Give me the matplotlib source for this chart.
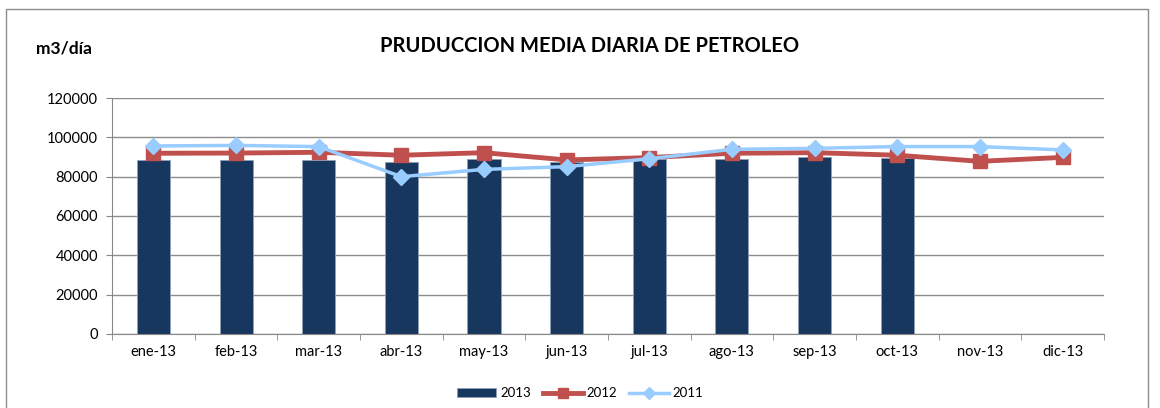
import matplotlib
matplotlib.use("Agg")
import matplotlib.pyplot as plt
from matplotlib.patches import Rectangle
import numpy as np

months = ["ene-13", "feb-13", "mar-13", "abr-13", "may-13", "jun-13",
          "jul-13", "ago-13", "sep-13", "oct-13", "nov-13", "dic-13"]
prod_2013 = [88300, 88300, 88300, 87500, 89000, 87600,
             88800, 89100, 89800, 89700]
prod_2012 = [91900, 92000, 92400, 90900, 92200, 88500,
             89700, 91900, 92200, 90900, 87800, 89800]
prod_2011 = [95600, 95900, 95300, 80000, 83700, 85100,
             89100, 93900, 94400, 95300, 95300, 93600]
yticks = [0, 20000, 40000, 60000, 80000, 100000, 120000]

plt.rcParams['font.family'] = ['Lato', 'DejaVu Sans']

fig = plt.figure(figsize=(11.6, 4.08), dpi=100)
ax = fig.add_axes([0.0966, 0.1814, 0.855, 0.5784])

x = np.arange(len(months))
b13 = ax.bar(x[:len(prod_2013)], prod_2013, width=0.4, color="#17375e",
             edgecolor="#8da0b8", linewidth=0.6, zorder=2, label="2013")
l12, = ax.plot(x, prod_2012, color="#c0504d", linewidth=3.5, marker="s",
               markersize=9.5, zorder=3, label="2012")
l11, = ax.plot(x, prod_2011, color="#99ccff", linewidth=2.5, marker="D",
               markersize=8.5, zorder=4, label="2011")

ax.set_xlim(-0.5, len(months) - 0.5)
ax.set_ylim(0, 120000)
ax.set_yticks(yticks)
ax.set_yticklabels([str(v) for v in yticks], fontsize=10.5)
ax.set_xticks(x)
ax.set_xticklabels(months, fontsize=10.5)
ax.set_xticks(np.arange(-0.5, len(months), 1), minor=True)
ax.tick_params(axis="x", which="major", length=0, pad=8)
ax.tick_params(axis="x", which="minor", length=4, color="#888888")
ax.tick_params(axis="y", length=4, color="#888888", pad=6)
ax.yaxis.grid(True, color="#8c8c8c", linewidth=1.0, zorder=0)
ax.set_axisbelow(True)
for s in ["top", "right"]:
    ax.spines[s].set_visible(False)
ax.spines["left"].set_color("#888888")
ax.spines["bottom"].set_color("#888888")

fig.text(0.508, 0.888, "PRUDUCCION MEDIA DIARIA DE PETROLEO", ha="center",
         va="center", fontsize=14.5, fontweight="bold")
fig.text(0.031, 0.882, "m3/día", ha="left", va="center", fontsize=12.5,
         fontweight="bold")

fig.legend([b13, l12, l11], ["2013", "2012", "2011"], loc="center",
           bbox_to_anchor=(0.5, 0.036), ncol=3, frameon=False,
           fontsize=9.5, handlelength=3.0, columnspacing=0.9,
           handletextpad=0.3, markerscale=0.7)

fig.patches.append(Rectangle((0.005, -0.05), 0.985, 1.028,
                             transform=fig.transFigure, fill=False,
                             edgecolor="#8c8c8c", linewidth=1.0))

fig.savefig("out.png", dpi=100)
